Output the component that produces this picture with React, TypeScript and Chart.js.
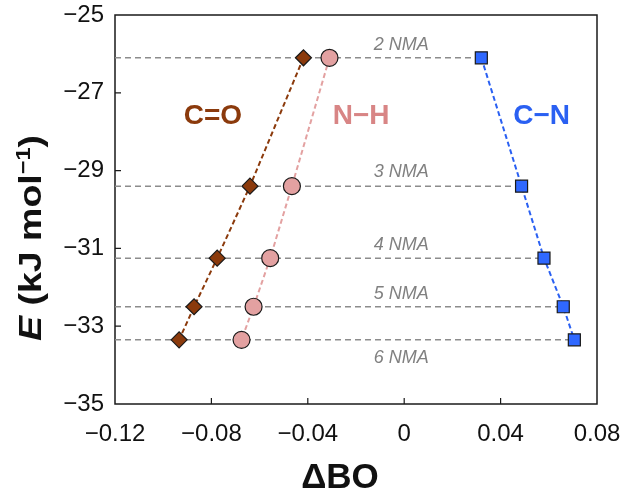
import { useEffect, useRef } from 'react';
import { Chart, registerables } from 'chart.js';

Chart.register(...registerables);

// ---- data ----
const NMA_LABELS = ['2 NMA', '3 NMA', '4 NMA', '5 NMA', '6 NMA'];
const ENERGY = [-26.1, -29.4, -31.25, -32.5, -33.35];
const CO_BO = [-0.0418, -0.064, -0.0776, -0.0872, -0.0934];
const NH_BO = [-0.031, -0.0466, -0.0556, -0.0625, -0.0675];
const CN_BO = [0.032, 0.0487, 0.058, 0.066, 0.0706];
const X_TICKS = [-0.12, -0.08, -0.04, 0, 0.04, 0.08];
const Y_TICKS = [-35, -33, -31, -29, -27, -25];
const SERIES_NAMES = ['C=O', 'N\u2212H', 'C\u2212N'];

// ---- styles ----
const FONT = '"Liberation Sans", Arial, Helvetica, sans-serif';
const CO_COLOR = '#8B3A0C';
const NH_COLOR = '#D88585';
const NH_FILL = '#E3A1A1';
const CN_COLOR = '#2A60F2';
const CN_FILL = '#2F68FF';
const REF_COLOR = '#8C8C8C';
const NMA_OFFSETS = [-13, -14, -13, -13, 18];
const SERIES_LABEL_POS = [
  { x: -0.0794, y: -27.61, color: CO_COLOR },
  { x: -0.0179, y: -27.61, color: NH_COLOR },
  { x: 0.057, y: -27.61, color: CN_COLOR },
];

const fmt = (v: number) => {
  const r = Math.round(v * 100) / 100;
  return (Math.abs(r) < 1e-9 ? '0' : String(r)).replace('-', '\u2212');
};

const toPts = (xs: number[]) => xs.map((x, i) => ({ x, y: ENERGY[i] }));

export default function App() {
  const ref = useRef<HTMLCanvasElement | null>(null);

  useEffect(() => {
    if (!ref.current) return;

    const decor = {
      id: 'decor',
      beforeDatasetsDraw(chart: any) {
        const { ctx, chartArea: a, scales } = chart;
        ctx.save();
        ctx.strokeStyle = '#1a1a1a';
        ctx.lineWidth = 1.5;
        ctx.strokeRect(a.left, a.top, a.right - a.left, a.bottom - a.top);
        ctx.lineWidth = 1.2;
        ctx.beginPath();
        X_TICKS.forEach((v) => {
          const px = scales.x.getPixelForValue(v);
          if (px > a.left + 2 && px < a.right - 2) {
            ctx.moveTo(px, a.bottom);
            ctx.lineTo(px, a.bottom - 6);
          }
        });
        Y_TICKS.forEach((v) => {
          const py = scales.y.getPixelForValue(v);
          if (py > a.top + 2 && py < a.bottom - 2) {
            ctx.moveTo(a.left, py);
            ctx.lineTo(a.left + 6, py);
          }
        });
        ctx.stroke();
        ctx.restore();
      },
      afterDatasetsDraw(chart: any) {
        const { ctx, scales } = chart;
        ctx.save();
        ctx.font = `italic 18px ${FONT}`;
        ctx.fillStyle = '#808080';
        ctx.textAlign = 'center';
        ctx.textBaseline = 'middle';
        const lx = scales.x.getPixelForValue(-0.0012);
        NMA_LABELS.forEach((t, i) => {
          const py = scales.y.getPixelForValue(ENERGY[i]) + NMA_OFFSETS[i];
          ctx.fillText(t, lx, py);
        });
        ctx.font = `bold 28px ${FONT}`;
        SERIES_NAMES.forEach((t, i) => {
          const p = SERIES_LABEL_POS[i];
          ctx.fillStyle = p.color;
          ctx.fillText(t, scales.x.getPixelForValue(p.x), scales.y.getPixelForValue(p.y));
        });
        ctx.restore();
      },
      afterDraw(chart: any) {
        const { ctx } = chart;
        ctx.save();
        ctx.fillStyle = '#111';
        ctx.font = `bold 35px ${FONT}`;
        ctx.textAlign = 'center';
        ctx.textBaseline = 'middle';
        ctx.fillText('\u0394BO', 340, 478);
        const big = 32;
        const sup = 20;
        const parts = [
          { t: 'E', f: `italic bold ${big}px ${FONT}`, dy: 0 },
          { t: ' (kJ mol', f: `bold ${big}px ${FONT}`, dy: 0 },
          { t: '\u22121', f: `bold ${sup}px ${FONT}`, dy: -11 },
          { t: ')', f: `bold ${big}px ${FONT}`, dy: 0 },
        ];
        let w = 0;
        const widths = parts.map((p) => {
          ctx.font = p.f;
          const m = ctx.measureText(p.t).width;
          w += m;
          return m;
        });
        ctx.translate(30, 238);
        ctx.rotate(-Math.PI / 2);
        const s = 206 / w;
        ctx.scale(s, 1);
        ctx.textAlign = 'left';
        ctx.textBaseline = 'alphabetic';
        let x = -w / 2;
        const base = (big * 0.716) / 2;
        parts.forEach((p, i) => {
          ctx.font = p.f;
          ctx.fillText(p.t, x, base + p.dy);
          x += widths[i];
        });
        ctx.restore();
      },
    };

    const refLines = ENERGY.map((e, i) => ({
      label: NMA_LABELS[i],
      data: [
        { x: X_TICKS[0], y: e },
        { x: CN_BO[i], y: e },
      ],
      borderColor: REF_COLOR,
      borderWidth: 1.5,
      borderDash: [6, 4],
      pointRadius: 0,
      showLine: true,
      order: 10,
    }));

    const chart = new Chart(ref.current, {
      type: 'scatter',
      data: {
        datasets: [
          {
            label: SERIES_NAMES[0],
            data: toPts(CO_BO),
            showLine: true,
            borderColor: CO_COLOR,
            borderWidth: 2,
            borderDash: [5, 3],
            pointStyle: 'rectRot',
            pointRadius: 8,
            pointBackgroundColor: CO_COLOR,
            pointBorderColor: '#1a1a1a',
            pointBorderWidth: 1.2,
            order: 1,
          },
          {
            label: SERIES_NAMES[1],
            data: toPts(NH_BO),
            showLine: true,
            borderColor: NH_FILL,
            borderWidth: 2,
            borderDash: [5, 3],
            pointStyle: 'circle',
            pointRadius: 8.5,
            pointBackgroundColor: NH_FILL,
            pointBorderColor: '#1a1a1a',
            pointBorderWidth: 1.2,
            order: 1,
          },
          {
            label: SERIES_NAMES[2],
            data: toPts(CN_BO),
            showLine: true,
            borderColor: CN_COLOR,
            borderWidth: 2,
            borderDash: [5, 3],
            pointStyle: 'rect',
            pointRadius: 8.5,
            pointBackgroundColor: CN_FILL,
            pointBorderColor: '#1a1a1a',
            pointBorderWidth: 1.2,
            order: 1,
          },
          ...refLines,
        ] as any,
      },
      options: {
        animation: false,
        responsive: false,
        maintainAspectRatio: false,
        layout: { padding: { left: 0, right: 27, top: 15, bottom: 0 } },
        plugins: {
          legend: { display: false },
          tooltip: { enabled: false },
          title: { display: false },
        },
        scales: {
          x: {
            type: 'linear',
            min: X_TICKS[0],
            max: X_TICKS[X_TICKS.length - 1],
            afterBuildTicks: (sc: any) => {
              sc.ticks = X_TICKS.map((v) => ({ value: v }));
            },
            afterFit: (sc: any) => {
              sc.height = 90;
              sc.paddingLeft = 0;
              sc.paddingRight = 0;
            },
            grid: { display: false, drawTicks: false },
            border: { display: false },
            ticks: {
              padding: 16,
              color: '#111',
              font: { family: FONT, size: 24 },
              callback: (v: any) => fmt(Number(v)),
              maxRotation: 0,
              autoSkip: false,
            },
          },
          y: {
            type: 'linear',
            min: Y_TICKS[0],
            max: Y_TICKS[Y_TICKS.length - 1],
            afterBuildTicks: (sc: any) => {
              sc.ticks = Y_TICKS.map((v) => ({ value: v }));
            },
            afterFit: (sc: any) => {
              sc.width = 115;
              sc.paddingTop = 0;
              sc.paddingBottom = 0;
            },
            grid: { display: false, drawTicks: false },
            border: { display: false },
            ticks: {
              padding: 11,
              color: '#111',
              font: { family: FONT, size: 24 },
              callback: (v: any) => fmt(Number(v)),
              autoSkip: false,
            },
          },
        },
      } as any,
      plugins: [decor],
    });

    return () => chart.destroy();
  }, []);

  return (
    <div style={{ position: 'absolute', left: 0, top: 0, width: 624, height: 494 }}>
      <canvas ref={ref} width={624} height={494} style={{ width: 624, height: 494 }} />
    </div>
  );
}
